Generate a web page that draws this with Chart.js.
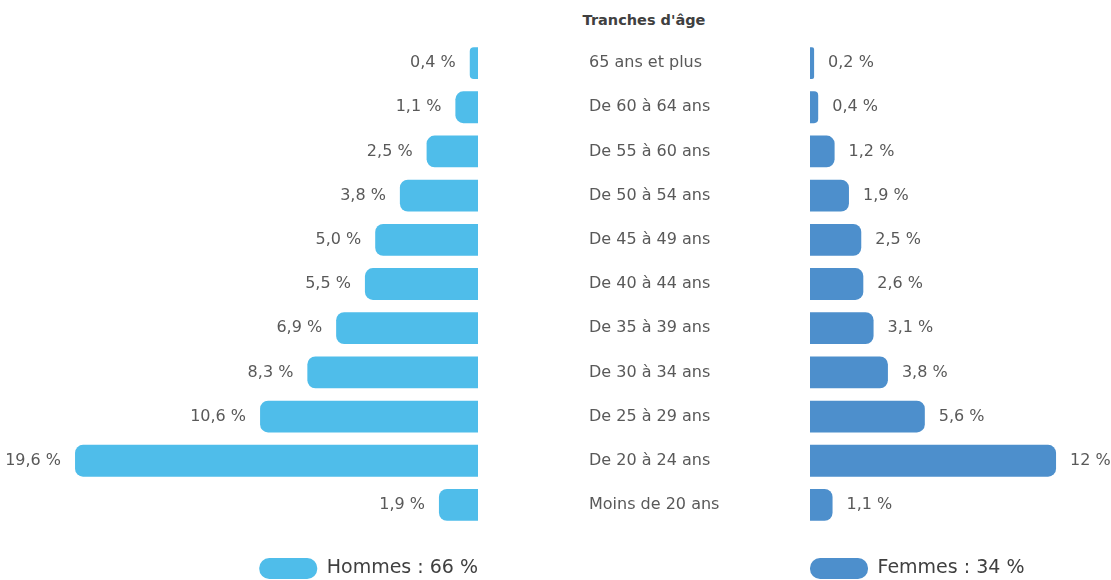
<!DOCTYPE html>
<html lang="fr">
<head>
<meta charset="utf-8">
<title>Tranches d'âge</title>
<script src="https://cdn.jsdelivr.net/npm/chart.js@4.4.1/dist/chart.umd.min.js"></script>
<style>
  html, body { margin: 0; padding: 0; background: #ffffff; overflow: hidden; }
  #wrap { position: relative; width: 1111px; height: 580px; overflow: hidden; }
  #title {
    position: absolute; left: 478px; top: 11px; width: 332px;
    text-align: center; font: bold 14.5px "DejaVu Sans", sans-serif;
    line-height: 18px; color: #404040;
  }
  .pane { position: absolute; top: 0; height: 589px; }
  #paneL { left: 0; width: 478px; }
  #paneR { left: 589px; width: 522px; }
</style>
</head>
<body>
<div id="wrap">
  <div id="title">Tranches d'âge</div>
  <div class="pane" id="paneL"><canvas id="chartHommes"></canvas></div>
  <div class="pane" id="paneR"><canvas id="chartFemmes"></canvas></div>
</div>
<script>
// Age groups, oldest first
const ageGroups = [
  "65 ans et plus",
  "De 60 à 64 ans",
  "De 55 à 60 ans",
  "De 50 à 54 ans",
  "De 45 à 49 ans",
  "De 40 à 44 ans",
  "De 35 à 39 ans",
  "De 30 à 34 ans",
  "De 25 à 29 ans",
  "De 20 à 24 ans",
  "Moins de 20 ans"
];

// Share of the workforce per age group (%)
const hommesPct = [0.4, 1.1, 2.5, 3.8, 5.0, 5.5, 6.9, 8.3, 10.6, 19.6, 1.9];
const femmesPct = [0.2, 0.4, 1.2, 1.9, 2.5, 2.6, 3.1, 3.8, 5.6, 12, 1.1];

// Overall split
const hommesTotal = 66;
const femmesTotal = 34;

const FONT = '"DejaVu Sans", sans-serif';
const TEXT = '#595959';
const BLUE_H = '#4FBDEA';
const BLUE_F = '#4D8FCC';

const fmtFixed = v => v.toFixed(1).replace('.', ',') + ' %';
const fmtPlain = v => String(v).replace('.', ',') + ' %';

// Writes the percentage next to the outer end of each bar
const valueLabels = {
  id: 'valueLabels',
  afterDatasetsDraw(chart, args, opts) {
    const ctx = chart.ctx;
    const meta = chart.getDatasetMeta(0);
    const values = chart.data.datasets[0].data;
    const dir = opts.side === 'left' ? -1 : 1;
    ctx.save();
    ctx.font = '16px ' + FONT;
    ctx.fillStyle = TEXT;
    ctx.textBaseline = 'middle';
    ctx.textAlign = dir < 0 ? 'right' : 'left';
    meta.data.forEach((bar, i) => {
      ctx.fillText(opts.format(values[i]), bar.x + dir * 14, bar.y);
    });
    ctx.restore();
  }
};

// Hidden value axis that only reserves the gap above the legend
const hiddenX = (extra) => Object.assign({
  display: true,
  min: 0,
  grid: { display: false, drawTicks: false },
  border: { display: false },
  ticks: { display: false },
  afterFit: s => { s.height = 31; }
}, extra);

const legendOpts = (align) => ({
  display: true,
  position: 'bottom',
  fullSize: false,
  align: align,
  labels: {
    boxWidth: 58,
    boxHeight: 21,
    padding: 0,
    useBorderRadius: true,
    borderRadius: 10,
    color: '#404040',
    font: { family: FONT, size: 19 }
  }
});

new Chart(document.getElementById('chartHommes'), {
  type: 'bar',
  data: {
    labels: ageGroups,
    datasets: [{
      label: 'Hommes : ' + hommesTotal + ' %',
      data: hommesPct,
      backgroundColor: BLUE_H,
      borderColor: BLUE_H,
      borderWidth: 0,
      borderRadius: 8
    }]
  },
  options: {
    indexAxis: 'y',
    responsive: true,
    maintainAspectRatio: false,
    animation: false,
    layout: { padding: { top: 41, left: 0, right: 0, bottom: 0 } },
    scales: {
      x: hiddenX({ reverse: true, max: 23.25 }),
      y: { display: false }
    },
    plugins: {
      legend: legendOpts('end'),
      tooltip: { enabled: false },
      valueLabels: { side: 'left', format: fmtFixed }
    }
  },
  plugins: [valueLabels]
});

new Chart(document.getElementById('chartFemmes'), {
  type: 'bar',
  data: {
    labels: ageGroups,
    datasets: [{
      label: 'Femmes : ' + femmesTotal + ' %',
      data: femmesPct,
      backgroundColor: BLUE_F,
      borderColor: BLUE_F,
      borderWidth: 0,
      borderRadius: 8
    }]
  },
  options: {
    indexAxis: 'y',
    responsive: true,
    maintainAspectRatio: false,
    animation: false,
    layout: { padding: { top: 41, left: 0, right: 0, bottom: 0 } },
    scales: {
      x: hiddenX({ max: 14.68 }),
      y: {
        position: 'left',
        afterFit: s => { s.width = 221; },
        grid: { display: false, drawTicks: false },
        border: { display: false },
        ticks: {
          crossAlign: 'far',
          padding: 0,
          autoSkip: false,
          color: TEXT,
          font: { family: FONT, size: 16 }
        }
      }
    },
    plugins: {
      legend: legendOpts('start'),
      tooltip: { enabled: false },
      valueLabels: { side: 'right', format: fmtPlain }
    }
  },
  plugins: [valueLabels]
});
</script>
</body>
</html>
